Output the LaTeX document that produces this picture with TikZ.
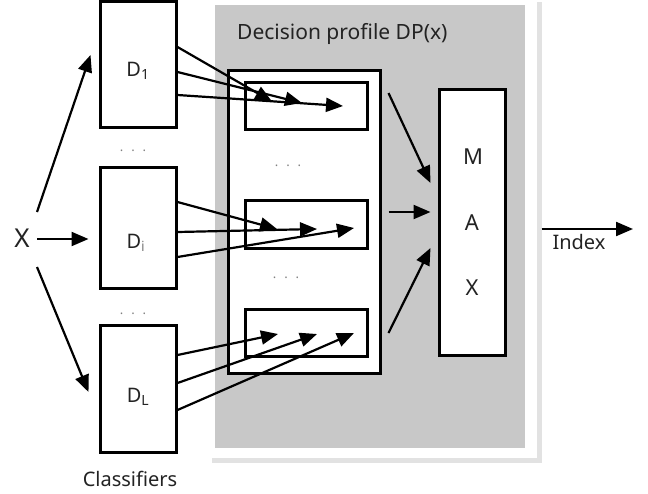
\documentclass[tikz,border=0pt]{standalone}
\usepackage{fontspec}
\setmainfont{Noto Sans}
\usepackage{xcolor}
\usetikzlibrary{arrows.meta, calc, positioning}

\definecolor{panelgray}{RGB}{200,200,200}
\definecolor{shadowgray}{RGB}{226,226,226}
\definecolor{txtgray}{RGB}{35,35,35}

\begin{document}
\begin{tikzpicture}[x=1pt, y=-1pt,
	box/.style={draw, line width=3pt, fill=white, inner sep=0pt},
	arr/.style={-{Triangle[length=17pt, width=14pt]}, line width=2.2pt},
	dots/.style={text=gray, inner sep=0pt, font=\fontsize{13}{13}\selectfont},
	lbl/.style={text=txtgray, inner sep=0pt, anchor=base, font=\fontsize{20}{24}\selectfont},
	maxlbl/.style={text=txtgray, inner sep=0pt, anchor=base, font=\fontsize{22}{26}\selectfont}]
	\useasboundingbox (0,0) rectangle (648,493);
	\fill[shadowgray] (212,2) rectangle (542,463);
	\fill[white] (210,0) rectangle (537,458);
	\fill[panelgray] (215,5) rectangle (525,448);
	\node[lbl, anchor=base west, font=\fontsize{21}{24}\selectfont] (title) at (237,39) {Decision profile DP(x)};
	\node[box, minimum width=76, minimum height=126] (d1) at (138,64) {};
	\node[box, minimum width=76, minimum height=121] (di) at (138,227.5) {};
	\node[box, minimum width=76, minimum height=127] (dl) at (138,388.5) {};
	\node[lbl] (d1t) at (138,76) {D\textsubscript{1}};
	\node[lbl] (dit) at (136,248) {D\textsubscript{\color{gray}i}};
	\node[lbl] (dlt) at (138,402) {D\textsubscript{L}};
	\node[lbl] (cls) at (130,486) {Classifiers};
	\node[dots] (dd1) at (133,151) {.\hspace{8pt}.\hspace{8pt}.};
	\node[dots] (dd2) at (133,314) {.\hspace{8pt}.\hspace{8pt}.};
	\node[text=txtgray, inner sep=0pt, font=\fontsize{26}{26}\selectfont] (x) at (22,238) {X};
	\node[box, minimum width=152, minimum height=303] (dp) at (304,221.5) {};
	\node[box, minimum width=122, minimum height=47] (r1) at (306,105.5) {};
	\node[box, minimum width=122, minimum height=48] (r2) at (306,224) {};
	\node[box, minimum width=122, minimum height=47] (rl) at (306,332.5) {};
	\node[dots] (dp1) at (288,166) {.\hspace{8pt}.\hspace{8pt}.};
	\node[dots] (dp2) at (286,278) {.\hspace{8pt}.\hspace{8pt}.};
	\node[box, minimum width=66, minimum height=266] (max) at (472,222) {};
	\node[maxlbl] (mm) at (473,164) {M};
	\node[maxlbl] (ma) at (472,230) {A};
	\node[maxlbl] (mx) at (472,295) {X};
	\coordinate (out) at (633,229);
	\node[lbl] (idx) at (579,249) {Index};
	\draw[arr] ($(x)+(15,-26)$) -- ($(d1.west)+(-8,-9)$);
	\draw[arr] ($(x)+(15,1)$) -- ($(di.west)+(-10,11.5)$);
	\draw[arr] ($(x)+(15,29)$) -- ($(dl.west)+(-10,3.5)$);
	\draw[arr] ($(d1.east)+(0,-17)$) -- ($(r1.center)+(-34,-4)$);
	\draw[arr] ($(d1.east)+(0,8)$) -- ($(r1.center)+(-4,-2.5)$);
	\draw[arr] ($(d1.east)+(0,31)$) -- ($(r1.center)+(37,0.5)$);
	\draw[arr] ($(di.east)+(0,-25.5)$) -- ($(r2.center)+(-29,5)$);
	\draw[arr] ($(di.east)+(0,4.5)$) -- ($(r2.center)+(11,5)$);
	\draw[arr] ($(di.east)+(0,29.5)$) -- ($(r2.center)+(48,4)$);
	\draw[arr] ($(dl.east)+(0,-33.5)$) -- ($(rl.center)+(-28,1.5)$);
	\draw[arr] ($(dl.east)+(0,-5.5)$) -- ($(rl.center)+(11,1.5)$);
	\draw[arr] ($(dl.east)+(0,21.5)$) -- ($(rl.center)+(48,0.5)$);
	\draw[arr] ($(r1.east)+(20,-12.5)$) -- ($(max.west)+(-7,-39)$);
	\draw[arr] ($(r2.east)+(20,-12)$) -- ($(max.west)+(-7,-10)$);
	\draw[arr] ($(rl.east)+(20,0.5)$) -- ($(max.west)+(-7,26)$);
	\draw[arr] ($(max.east)+(35,7)$) -- (out);
\end{tikzpicture}
\end{document}
